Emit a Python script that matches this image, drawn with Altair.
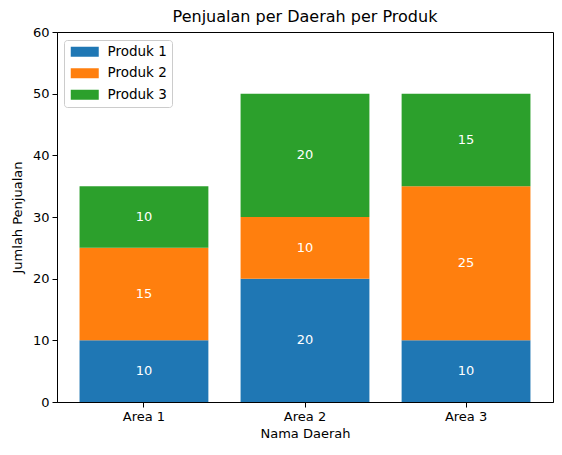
import pandas as pd
import altair as alt

areas = ["Area 1", "Area 2", "Area 3"]
produk = ["Produk 1", "Produk 2", "Produk 3"]
produk_1 = [10, 20, 10]
produk_2 = [15, 10, 25]
produk_3 = [10, 20, 15]
colors = ["#1f77b4", "#ff7f0e", "#2ca02c"]

rows = []
for i, series in enumerate([produk_1, produk_2, produk_3]):
    for area, val in zip(areas, series):
        rows.append({"area": area, "produk": produk[i], "order": i, "jumlah": val})
df = pd.DataFrame(rows)

font = "DejaVu Sans"

base = alt.Chart(df).transform_stack(
    stack="jumlah", groupby=["area"], as_=["y0", "y1"],
    sort=[alt.SortField("order", order="ascending")]
).transform_calculate(mid="(datum.y0 + datum.y1) / 2")

x = alt.X("area:N", title="Nama Daerah", sort=areas,
          scale=alt.Scale(paddingInner=0.2, paddingOuter=0.14),
          axis=alt.Axis(labelAngle=0, labelFontSize=13, titleFontSize=13,
                        labelFont=font, titleFont=font, labelColor="black",
                        titleColor="black", tickColor="black", domainColor="black",
                        tickSize=5, labelPadding=3, titlePadding=4, titleFontWeight="normal"))

bars = base.mark_bar().encode(
    x=x,
    y=alt.Y("y0:Q", title="Jumlah Penjualan", scale=alt.Scale(domain=[0, 60], nice=False),
            axis=alt.Axis(values=[0, 10, 20, 30, 40, 50, 60], grid=False, labelFontSize=13,
                          titleFontSize=13, labelFont=font, titleFont=font,
                          labelColor="black", titleColor="black", tickColor="black",
                          domainColor="black", tickSize=5, labelPadding=3,
                          titlePadding=8, titleFontWeight="normal")),
    y2="y1:Q",
    color=alt.Color("produk:N", scale=alt.Scale(domain=produk, range=colors),
                    legend=alt.Legend(title=None, orient="none", legendX=7, legendY=8,
                                      symbolType="M-2.8,-1L2.8,-1L2.8,1L-2.8,1Z",
                                      symbolSize=100, symbolStrokeWidth=0,
                                      labelFontSize=13.5, labelFont=font, labelColor="black",
                                      fillColor="white", strokeColor="#cccccc",
                                      padding=5, cornerRadius=3, rowPadding=6.5,
                                      symbolOffset=9, labelOffset=16)),
    order=alt.Order("order:Q"),
)

labels = base.mark_text(color="white", fontSize=13, font=font).encode(
    x=alt.X("area:N", sort=areas),
    y=alt.Y("mid:Q"),
    text=alt.Text("jumlah:Q"),
)

chart = alt.layer(bars, labels).properties(
    width=496, height=370,
    title=alt.TitleParams("Penjualan per Daerah per Produk", fontSize=16, font=font,
                          fontWeight="normal", color="black", offset=1),
    autosize=alt.AutoSizeParams(type="none"),
    padding={"left": 49, "top": 24, "right": 1, "bottom": 45},
).configure_view(stroke="black", strokeWidth=1)

chart.save("out.html", embed_options={"renderer": "svg", "actions": False})
